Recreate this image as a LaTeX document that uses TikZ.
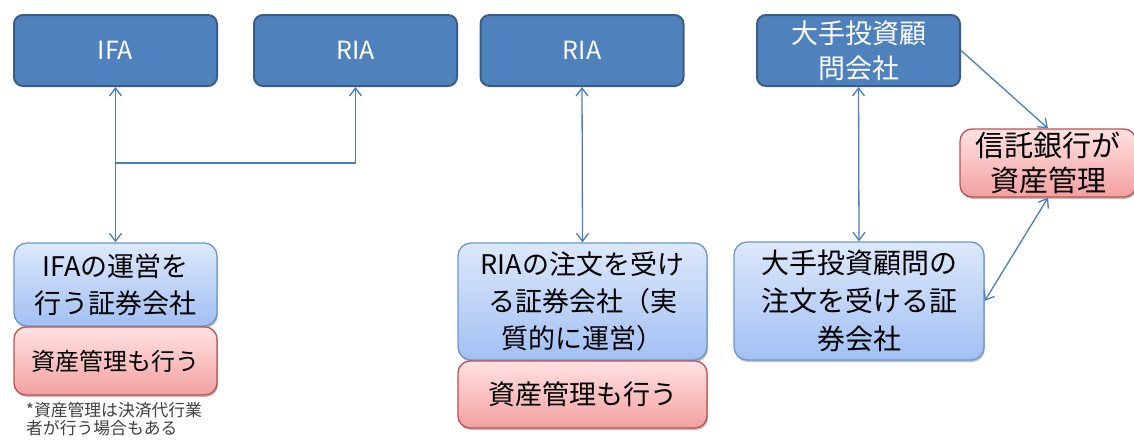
\documentclass[tikz,border=0pt]{standalone}
\usepackage{fontspec}
\setmainfont{Noto Sans CJK JP}
\usetikzlibrary{arrows.meta,shadows}
\definecolor{topfill}{HTML}{4F81BD}
\definecolor{topdraw}{HTML}{385D8A}
\definecolor{conncol}{HTML}{4A7EBB}
\definecolor{bluetop}{HTML}{DDE8FB}
\definecolor{bluebot}{HTML}{A2C0F3}
\definecolor{blueline}{HTML}{6A97D0}
\definecolor{redtop}{HTML}{FFE2E2}
\definecolor{redbot}{HTML}{F3A0A0}
\definecolor{redline}{HTML}{C0504D}
\definecolor{notecol}{HTML}{404040}
\tikzset{
  topbox/.style={draw=topdraw, line width=2pt, fill=topfill, rounded corners=9pt,
    text=white, align=center, inner sep=0pt, minimum width=203pt, minimum height=71pt},
  bluebox/.style={draw=blueline, line width=1.3pt, top color=bluetop, bottom color=bluebot,
    rounded corners=13pt, align=center, inner sep=0pt,
    drop shadow={shadow xshift=1pt,shadow yshift=-2pt,opacity=0.25,fill=black}},
  redbox/.style={draw=redline, line width=1.3pt, top color=redtop, bottom color=redbot,
    rounded corners=12pt, align=center, inner sep=0pt,
    drop shadow={shadow xshift=1pt,shadow yshift=-2pt,opacity=0.25,fill=black}},
  barb/.tip={Straight Barb[length=8pt,width=12pt]},
  link/.style={draw=conncol, line width=1.3pt},
  both/.style={link, barb-barb},
  single/.style={link, -barb},
  bigfont/.style={font=\fontsize{27}{37}\selectfont},
}
\begin{document}
\begin{tikzpicture}[x=1pt,y=-1pt]
\useasboundingbox (0,0) rectangle (1134,439);
\clip (0,0) rectangle (1134,439);
% top boxes
\node[topbox, font=\fontsize{25}{30}\selectfont] (ifa) at (115.5,50.5) {IFA};
\node[topbox, font=\fontsize{25}{30}\selectfont] (ria1) at (355.5,50.5) {RIA};
\node[topbox, font=\fontsize{25}{30}\selectfont] (ria2) at (582,50.5) {RIA};
\node[topbox, font=\fontsize{27}{35}\selectfont] (dai) at (858.5,50.5) {大手投資顧\\問会社};
% lower boxes
\node[bluebox, bigfont, minimum width=203pt, minimum height=83pt] (ifasec) at (115.5,284.5) {IFAの運営を\\行う証券会社};
\node[redbox, font=\fontsize{24}{32}\selectfont, minimum width=203pt, minimum height=68pt] (ifared) at (115.5,361) {資産管理も行う};
\node[anchor=north west, align=left, text=notecol, font=\fontsize{16.8}{18}\selectfont, inner sep=0pt] (note) at (26,402) {*資産管理は決済代行業\\者が行う場合もある};
\node[bluebox, bigfont, minimum width=249pt, minimum height=117pt] (riasec) at (582.5,301.5) {RIAの注文を受け\\る証券会社（実\\質的に運営）};
\node[redbox, font=\fontsize{27}{32}\selectfont, minimum width=249pt, minimum height=67pt] (riared) at (582.5,394.5) {資産管理も行う};
\node[bluebox, font=\fontsize{28}{38}\selectfont, minimum width=250pt, minimum height=118pt] (daisec) at (859,301) {大手投資顧問の\\注文を受ける証\\券会社};
\node[redbox, font=\fontsize{29}{35}\selectfont, minimum width=176pt, minimum height=68pt] (shin) at (1048,163) {信託銀行が\\資産管理};
% connectors
\coordinate (j) at (115.5,163);
\draw[both] (ifa.south) -- (ifasec.north);
\draw[single] (j) -| (ria1.south);
\draw[both] (ria2.south) -- (riasec.north);
\draw[both] (dai.south) -- (daisec.north);
\draw[single] (dai.east) -- (shin.north);
\draw[both] (shin.south) -- (daisec.east);
\end{tikzpicture}
\end{document}
